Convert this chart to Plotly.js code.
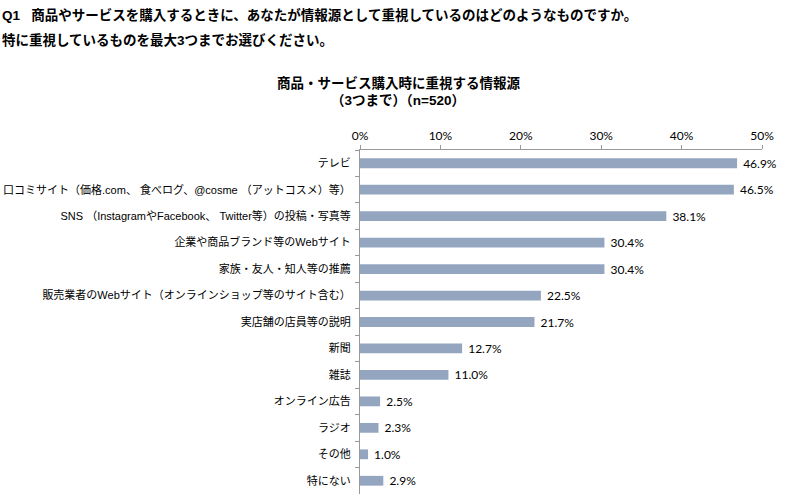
<!DOCTYPE html>
<html>
<head>
<meta charset="utf-8">
<script src="https://cdn.plot.ly/plotly-3.0.1.min.js"></script>
<style>html,body{margin:0;padding:0;background:#fff;}#chart{width:800px;height:501px;}</style>
</head>
<body>
<div id="chart"></div>
<script>
const categories = [
  "テレビ",
  "口コミサイト（価格.com、 食べログ、@cosme （アットコスメ）等）",
  "SNS （InstagramやFacebook、 Twitter等）の投稿・写真等",
  "企業や商品ブランド等のWebサイト",
  "家族・友人・知人等の推薦",
  "販売業者のWebサイト（オンラインショップ等のサイト含む）",
  "実店舗の店員等の説明",
  "新聞",
  "雑誌",
  "オンライン広告",
  "ラジオ",
  "その他",
  "特にない"
];
const values = [46.9, 46.5, 38.1, 30.4, 30.4, 22.5, 21.7, 12.7, 11.0, 2.5, 2.3, 1.0, 2.9];
const valueLabels = values.map(v => "\u00a0" + v.toFixed(1) + "%");
const xTickValues = [0, 10, 20, 30, 40, 50];
const xTickLabels = ["0%", "10%", "20%", "30%", "40%", "50%"];
const questionLines = [
  "Q1&nbsp;&nbsp;&nbsp;商品やサービスを購入するときに、あなたが情報源として重視しているのはどのようなものですか。",
  "特に重視しているものを最大3つまでお選びください。"
];
const chartTitle = ["商品・サービス購入時に重視する情報源", "（3つまで）（n=520）"];

const jp = '"Liberation Sans", "Noto Sans CJK JP", sans-serif';
const num = 'Lato, "Open Sans", sans-serif';
const trace = {
  type: 'bar',
  orientation: 'h',
  y: categories,
  x: values,
  text: valueLabels,
  textposition: 'outside',
  constraintext: 'none',
  cliponaxis: false,
  textfont: {family: num, size: 12, color: '#000'},
  marker: {color: '#94A5C0'},
  hoverinfo: 'skip'
};
const layout = {
  width: 800, height: 501,
  margin: {l: 360, r: 38, t: 150, b: 7},
  paper_bgcolor: '#fff', plot_bgcolor: '#fff',
  showlegend: false,
  bargap: 0.63,
  xaxis: {
    side: 'top', range: [0, 50], tickvals: xTickValues, ticktext: xTickLabels,
    showgrid: false, zeroline: false, showline: true, linecolor: '#999', linewidth: 1,
    ticks: 'outside', ticklen: 4, tickcolor: '#999',
    tickfont: {family: num, size: 12, color: '#000'},
    fixedrange: true
  },
  yaxis: {
    autorange: 'reversed', type: 'category',
    showgrid: false, zeroline: false, showline: true, linecolor: '#999', linewidth: 1,
    ticks: 'outside', ticklen: 4, tickcolor: '#999', tickson: 'boundaries',
    ticklabelstandoff: 6,
    tickfont: {family: jp, size: 11, color: '#000'},
    fixedrange: true
  },
  annotations: [
    {xref: 'paper', yref: 'paper', x: -360/402, y: 1 + (150-15)/344, xanchor: 'left', yanchor: 'middle', showarrow: false,
     text: '<b>' + questionLines[0] + '</b>', font: {family: jp, size: 13.5, color: '#000'}},
    {xref: 'paper', yref: 'paper', x: -360/402, y: 1 + (150-40)/344, xanchor: 'left', yanchor: 'middle', showarrow: false,
     text: '<b>' + questionLines[1] + '</b>', font: {family: jp, size: 13.5, color: '#000'}},
    {xref: 'paper', yref: 'paper', x: (398-360)/402, y: 1 + (150-83)/344, xanchor: 'center', yanchor: 'middle', showarrow: false,
     text: '<b>' + chartTitle[0] + '</b>', font: {family: jp, size: 13.5, color: '#000'}},
    {xref: 'paper', yref: 'paper', x: (398-360)/402, y: 1 + (150-101)/344, xanchor: 'center', yanchor: 'middle', showarrow: false,
     text: '<b>' + chartTitle[1] + '</b>', font: {family: jp, size: 13.5, color: '#000'}}
  ]
};
Plotly.newPlot('chart', [trace], layout, {displayModeBar: false, staticPlot: true});
</script>
</body>
</html>
